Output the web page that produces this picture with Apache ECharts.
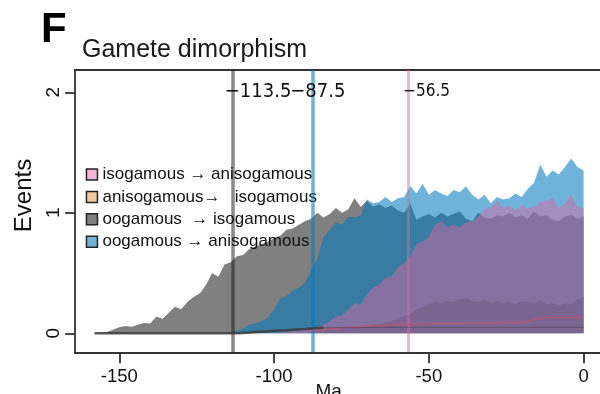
<!DOCTYPE html>
<html>
<head>
<meta charset="utf-8">
<script src="https://cdn.jsdelivr.net/npm/echarts@6/dist/echarts.min.js"></script>
<style>html,body{margin:0;padding:0;background:#fff}#chart{width:600px;height:394px}</style>
</head>
<body>
<div id="chart"></div>
<script>
// time axis (Ma), 2 Ma steps
var ages = [-158,-156,-154,-152,-150,-148,-146,-144,-142,-140,
  -138,-136,-134,-132,-130,-128,-126,-124,-122,-120,
  -118,-116,-114,-112,-110,-108,-106,-104,-102,-100,
  -98,-96,-94,-92,-90,-88,-86,-84,-82,-80,
  -78,-76,-74,-72,-70,-68,-66,-64,-62,-60,
  -58,-56,-54,-52,-50,-48,-46,-44,-42,-40,
  -38,-36,-34,-32,-30,-28,-26,-24,-22,-20,
  -18,-16,-14,-12,-10,-8,-6,-4,-2,0];

// oogamous -> isogamous
var oogIso = [0,0,0.01,0.03,0.05,0.06,0.055,0.07,0.085,0.08,
  0.14,0.12,0.17,0.22,0.2,0.26,0.3,0.33,0.4,0.5,
  0.47,0.57,0.59,0.64,0.65,0.7,0.72,0.74,0.76,0.79,
  0.81,0.86,0.87,0.9,0.93,0.95,1.0,0.96,0.99,1.04,
  1.0,1.03,1.12,1.05,1.1,1.05,1.07,1.04,1.06,1.02,
  1.0,1.08,0.94,0.97,0.99,0.96,1.0,0.97,0.99,1.01,
  0.95,0.93,1.0,0.96,0.95,0.98,0.97,1.0,0.96,0.98,
  0.95,1.01,0.97,0.98,0.94,0.93,0.97,0.98,0.95,0.97];

// oogamous -> anisogamous
var oogAniso = [0,0,0,0.005,0.005,0.01,0.01,0.01,0.01,0.01,
  0.01,0.01,0.01,0.01,0.01,0.01,0.01,0.01,0.01,0.01,
  0.01,0.01,0.01,0.02,0.04,0.07,0.08,0.1,0.13,0.2,
  0.29,0.31,0.35,0.38,0.42,0.52,0.62,0.8,0.86,0.92,
  0.9,0.97,0.96,0.98,1.11,1.08,1.09,1.13,1.09,1.12,
  1.13,1.22,1.16,1.24,1.15,1.19,1.16,1.14,1.19,1.17,
  1.22,1.15,1.11,1.15,1.08,1.13,1.11,1.12,1.16,1.13,
  1.2,1.25,1.4,1.3,1.35,1.32,1.38,1.45,1.38,1.35];

// isogamous -> anisogamous
var isoAniso = [0,0,0,0,0,0,0,0,0,0,
  0,0,0,0,0,0,0,0,0,0,
  0,0,0,0,0,0,0,0,0,0,
  0.005,0.01,0.015,0.02,0.03,0.04,0.05,0.07,0.1,0.14,
  0.15,0.2,0.25,0.24,0.32,0.38,0.4,0.46,0.47,0.55,
  0.58,0.64,0.74,0.76,0.8,0.9,0.93,0.88,0.9,0.88,
  0.92,0.93,0.97,1.03,1.05,1.1,1.04,1.06,1.02,1.06,
  1.04,1.05,1.09,1.1,1.12,1.04,1.08,1.15,1.05,1.04];

// anisogamous -> isogamous
var anisoIso = [0,0,0,0,0,0,0,0,0,0,
  0,0,0,0,0,0,0,0,0,0,
  0,0,0,0,0,0,0,0,0,0,
  0,0,0,0,0,0.01,0.02,0.02,0.03,0.03,
  0.04,0.04,0.05,0.05,0.06,0.07,0.08,0.09,0.1,0.12,
  0.14,0.16,0.19,0.22,0.24,0.26,0.25,0.27,0.26,0.28,
  0.29,0.27,0.26,0.28,0.25,0.27,0.25,0.26,0.24,0.27,
  0.26,0.25,0.27,0.24,0.25,0.23,0.25,0.24,0.28,0.3];

// thin lines near zero
var redLine = [null,null,null,null,null,null,null,null,null,null,
  null,null,null,null,null,null,null,null,null,null,
  null,null,null,null,null,null,null,null,null,null,
  null,null,null,null,null,0.02,0.025,0.03,0.035,0.04,
  0.045,0.05,0.05,0.055,0.06,0.06,0.065,0.065,0.07,0.07,
  0.07,0.075,0.075,0.075,0.08,0.08,0.08,0.08,0.08,0.08,
  0.085,0.085,0.085,0.085,0.085,0.085,0.09,0.09,0.09,0.09,
  0.1,0.115,0.125,0.13,0.13,0.13,0.13,0.13,0.13,0.13];
var baseLine = [0,0,0,0,0,0,0,0,0,0,
  0,0,0,0,0,0,0,0,0,0,
  0,0,0,0,0.003,0.006,0.01,0.013,0.016,0.02,
  0.023,0.026,0.03,0.033,0.036,0.04,0.043,0.045,null,null,
  null,null,null,null,null,null,null,null,null,null,
  null,null,null,null,null,null,null,null,null,null,
  null,null,null,null,null,null,null,null,null,null,
  null,null,null,null,null,null,null,null,null,null];
var lowLine = [null,null,null,null,null,null,null,null,null,null,
  null,null,null,null,null,null,null,null,null,null,
  null,null,null,null,null,null,null,null,null,null,
  null,null,null,null,null,null,null,0.045,0.045,0.046,
  0.046,0.047,0.047,0.048,0.048,0.048,0.049,0.049,0.049,0.05,
  0.05,0.05,0.05,0.05,0.05,0.05,0.05,0.05,0.05,0.05,
  0.05,0.05,0.05,0.05,0.05,0.05,0.05,0.05,0.05,0.05,
  0.05,0.05,0.05,0.05,0.05,0.05,0.05,0.05,0.05,0.05];

var splitAges = [-113.5, -87.5, -56.5];
var splitNames = ['\u2212113.5', '\u221287.5', '\u221256.5'];
var legendNames = ['isogamous \u2192 anisogamous', 'anisogamous\u2192   isogamous',
  'oogamous  \u2192 isogamous', 'oogamous \u2192 anisogamous'];
var xTicks = [-150, -100, -50, 0];
var yTicks = [0, 1, 2];

var font = '"Liberation Sans", Arial, sans-serif';
var chart = echarts.init(document.getElementById('chart'));

function pairs(vals) {
  return ages.map(function (a, i) { return [a, vals[i]]; });
}

var yTop = 2.185, yBottom = -0.158;
var lineColors = ['rgba(20,20,20,0.5)', 'rgba(2,122,190,0.57)', 'rgba(224,102,163,0.47)'];
var lineWidths = [3.5, 3.5, 3];
var labelOffsets = [-7, -22, -5];
var labelSizes = [20, 20, 17];

var option = {
  animation: false,
  title: [
    {text: 'F', left: 41, top: 9, padding: 0,
     textStyle: {fontSize: 42, fontWeight: 'bold', fontFamily: font, color: '#000'}},
    {text: 'Gamete dimorphism', left: 82, top: 38, padding: 0,
     textStyle: {fontSize: 25, fontWeight: 'normal', fontFamily: font, color: '#1a1a1a'}}
  ],
  grid: {left: 74.7, right: 0, top: 70, bottom: 41.7},
  legend: {
    orient: 'vertical', left: 85.7, top: 166, padding: 0,
    itemWidth: 11, itemHeight: 11, itemGap: 5.4, icon: 'rect',
    selectedMode: false,
    textStyle: {fontSize: 17, lineHeight: 17, fontFamily: font, color: '#111'},
    data: [
      {name: legendNames[0], itemStyle: {color: '#f0b7d4', borderColor: '#222', borderWidth: 1.5}},
      {name: legendNames[1], itemStyle: {color: '#f5c8a0', borderColor: '#222', borderWidth: 1.5}},
      {name: legendNames[2], itemStyle: {color: '#808080', borderColor: '#222', borderWidth: 1.5}},
      {name: legendNames[3], itemStyle: {color: '#6fb3da', borderColor: '#222', borderWidth: 1.5}}
    ]
  },
  xAxis: [{
    type: 'value', min: -164.4, max: 5.3,
    axisLine: {onZero: false, lineStyle: {color: '#333', width: 1.8}},
    axisTick: {length: 11, customValues: xTicks, lineStyle: {color: '#333', width: 1.8}},
    axisLabel: {customValues: xTicks, margin: 15.5, fontSize: 18.5, fontFamily: font, color: '#111'},
    splitLine: {show: false}
  }, {
    type: 'value', position: 'top', min: -164.4, max: 5.3,
    axisLine: {show: true, onZero: false, lineStyle: {color: '#333', width: 1.8}},
    axisTick: {show: false}, axisLabel: {show: false}, splitLine: {show: false}
  }],
  yAxis: {
    type: 'value', min: yBottom, max: yTop,
    axisLine: {show: true, onZero: false, lineStyle: {color: '#333', width: 1.8}},
    axisTick: {show: true, length: 9.5, customValues: yTicks, lineStyle: {color: '#333', width: 1.8}},
    axisLabel: {customValues: yTicks, rotate: 90, margin: 11, fontSize: 19, fontFamily: font, color: '#111'},
    splitLine: {show: false}
  },
  graphic: [
    {type: 'text', x: 24.5, y: 195.5, rotation: Math.PI / 2,
     style: {text: 'Events', font: '24px ' + font, fill: '#111', align: 'center', verticalAlign: 'middle'}},
    {type: 'text', x: 328.6, y: 392,
     style: {text: 'Ma', font: '19px ' + font, fill: '#111', align: 'center', verticalAlign: 'middle'}}
  ],
  series: [
    {name: legendNames[2], type: 'line', data: pairs(oogIso), showSymbol: false,
     lineStyle: {width: 0}, itemStyle: {color: '#808080'},
     areaStyle: {color: '#808080', opacity: 1}, z: 1},
    {name: legendNames[3], type: 'line', data: pairs(oogAniso), showSymbol: false,
     lineStyle: {width: 0}, itemStyle: {color: '#6fb3da'},
     areaStyle: {color: 'rgba(2,122,190,0.57)', opacity: 1}, z: 2},
    {name: legendNames[0], type: 'line', data: pairs(isoAniso), showSymbol: false,
     lineStyle: {width: 0}, itemStyle: {color: '#f0b7d4'},
     areaStyle: {color: 'rgba(224,102,163,0.47)', opacity: 1}, z: 3},
    {name: legendNames[1], type: 'line', data: pairs(anisoIso), showSymbol: false,
     lineStyle: {width: 0}, itemStyle: {color: '#f5c8a0'},
     areaStyle: {color: 'rgba(60,40,50,0.15)', opacity: 1}, z: 4},
    {name: 'red', type: 'line', data: pairs(redLine), showSymbol: false,
     lineStyle: {width: 1.5, color: 'rgba(200,80,110,0.7)'}, z: 5},
    {name: 'low', type: 'line', data: pairs(lowLine), showSymbol: false,
     lineStyle: {width: 1.2, color: 'rgba(60,60,60,0.45)'}, z: 5},
    {name: 'base', type: 'line', data: pairs(baseLine), showSymbol: false, clip: false,
     lineStyle: {width: 2.5, color: 'rgba(60,60,60,0.85)'}, z: 6,
     markLine: {
       silent: true, symbol: ['none', 'none'], label: {show: false},
       data: splitAges.map(function (a, i) {
         return {xAxis: a, lineStyle: {color: lineColors[i], width: lineWidths[i], type: 'solid'}};
       })
     },
     markPoint: {
       silent: true, symbol: 'rect', symbolSize: 1, itemStyle: {color: 'rgba(0,0,0,0)'},
       data: splitAges.map(function (a, i) {
         return {name: splitNames[i], coord: [a, 2],
                 label: {show: true, formatter: '{b}', position: [labelOffsets[i], 0],
                         align: 'left', verticalAlign: 'middle',
                         fontSize: labelSizes[i], fontFamily: '"DejaVu Sans Condensed"', color: '#111'}};
       })
     }}
  ]
};
chart.setOption(option);
</script>
</body>
</html>
